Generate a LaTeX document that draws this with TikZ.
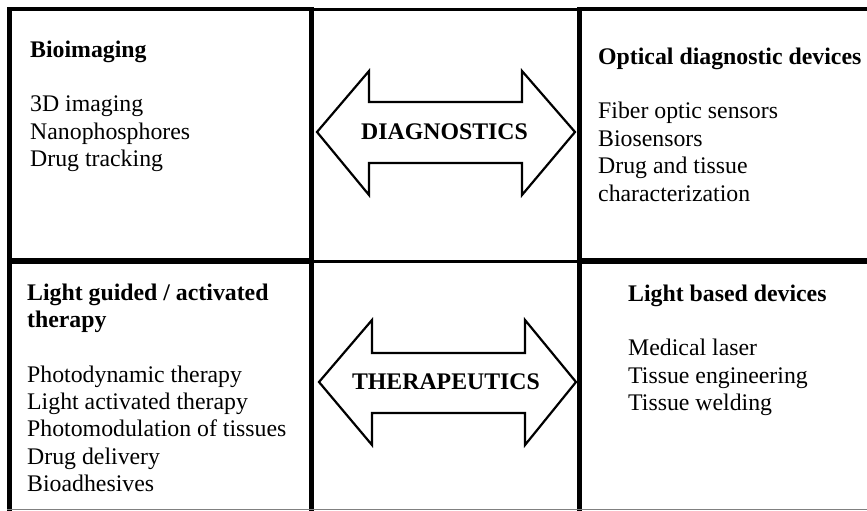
\documentclass[tikz,border=0pt]{standalone}
\usepackage{fontspec}
\setmainfont{Liberation Serif}
\begin{document}
\begin{tikzpicture}[x=1pt,y=-1pt,
  txt/.style={anchor=base west, inner sep=0pt, font=\fontsize{23.8}{27.4}\selectfont},
  ttl/.style={anchor=base west, inner sep=0pt, font=\fontsize{23.8}{27.4}\selectfont\bfseries},
  lbl/.style={anchor=center, inner sep=0pt, font=\fontsize{23.8}{27.4}\selectfont\bfseries},
  heavy/.style={line width=5pt},
  medium/.style={line width=3pt},
  bigarrow/.style={draw, line width=2.2pt, fill=white, line join=miter}]
\useasboundingbox (0,0) rectangle (867,511);
% grid lines
\draw[line width=4pt] (7,9.5) -- (311,9.5);
\draw[medium] (311,9.5) -- (579.5,9.5);
\draw[line width=4pt] (579.5,9.5) -- (867,9.5);
\draw[heavy] (9.5,7.5) -- (9.5,511);
\draw[heavy] (311,7.5) -- (311,511);
\draw[heavy] (579.5,7.5) -- (579.5,511);
\draw[line width=6pt] (7,261) -- (311,261);
\draw[medium] (311,261) -- (579.5,261);
\draw[line width=6pt] (579.5,261) -- (867,261);
\draw[line width=1.5pt, gray] (7,509.5) -- (867,509.5);
% double arrows
\draw[bigarrow] (317,132) -- (369,71) -- (369,102) -- (522,102) -- (522,71) -- (575,132)
  -- (522,195) -- (522,163) -- (369,163) -- (369,195) -- cycle;
\node[lbl] (diag) at (444.5,132) {DIAGNOSTICS};
\draw[bigarrow] (319,382) -- (372,320) -- (372,353) -- (525,353) -- (525,320) -- (576,382)
  -- (525,445) -- (525,413) -- (372,413) -- (372,445) -- cycle;
\node[lbl] (ther) at (446,382) {THERAPEUTICS};
% top left
\node[ttl] (bio) at (30,57) {Bioimaging};
\node[txt] (bio1) at (30,111.8) {3D imaging};
\node[txt] (bio2) at (30,139.2) {Nanophosphores};
\node[txt] (bio3) at (30,166.6) {Drug tracking};
% top right
\node[ttl] (opt) at (598,64) {Optical diagnostic devices};
\node[txt] (opt1) at (598,118.8) {Fiber optic sensors};
\node[txt] (opt2) at (598,146.2) {Biosensors};
\node[txt] (opt3) at (598,173.6) {Drug and tissue};
\node[txt] (opt4) at (598,201) {characterization};
% bottom left
\node[ttl] (lg) at (27,300) {Light guided / activated};
\node[ttl] (lg0) at (27,327.4) {therapy};
\node[txt] (lg1) at (27,382) {Photodynamic therapy};
\node[txt] (lg2) at (27,409.4) {Light activated therapy};
\node[txt] (lg3) at (27,436.8) {Photomodulation of tissues};
\node[txt] (lg4) at (27,464.2) {Drug delivery};
\node[txt] (lg5) at (27,491.6) {Bioadhesives};
% bottom right
\node[ttl] (lb) at (628,301) {Light based devices};
\node[txt] (lb1) at (628,355.8) {Medical laser};
\node[txt] (lb2) at (628,383.2) {Tissue engineering};
\node[txt] (lb3) at (628,410.6) {Tissue welding};
\end{tikzpicture}
\end{document}
